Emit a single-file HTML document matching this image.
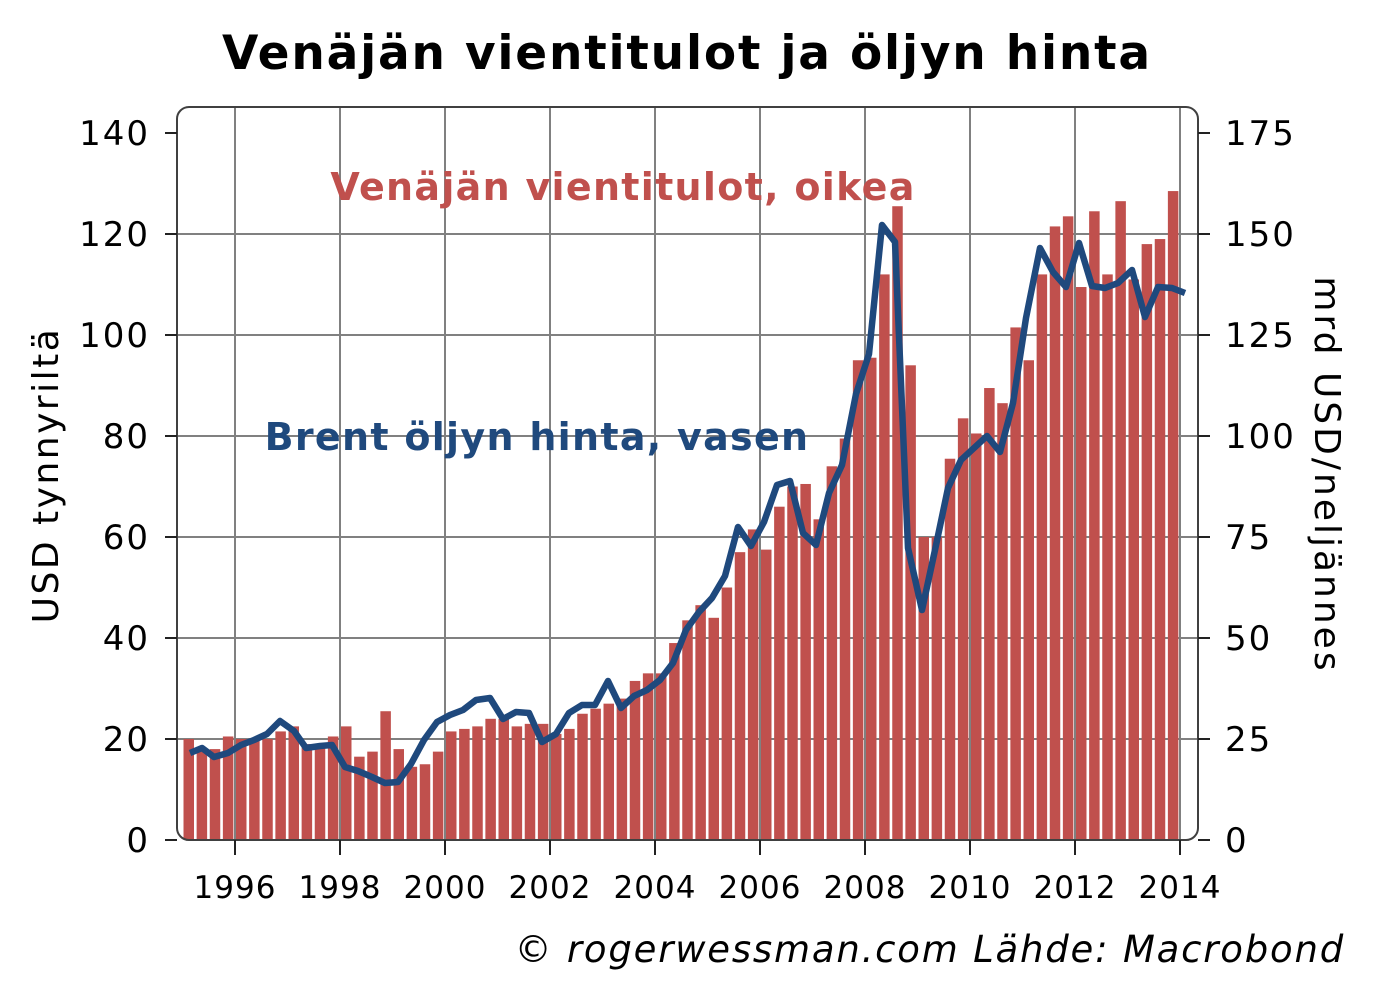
<!DOCTYPE html><html><head><meta charset="utf-8"><style>body{margin:0;background:#fff}svg{display:block}text{font-family:"DejaVu Sans","Liberation Sans",sans-serif}</style></head><body>
<svg id="s" width="1375" height="1000" xmlns="http://www.w3.org/2000/svg">
<rect width="1375" height="1000" fill="#fff"/>
<g id="grid" stroke="#808080" stroke-width="2"></g>
<g id="bars" fill="#c0504d"></g>
<polyline id="ln" fill="none" stroke="#1f497d" stroke-width="6.5" stroke-linejoin="round"/>
<rect x="177" y="107" width="1021" height="733" rx="12" fill="none" stroke="#404040" stroke-width="2"/>
<g id="ticks" stroke="#222" stroke-width="2"></g>
<g id="lab" font-size="34" fill="#000" letter-spacing="2"></g>
<text x="687" y="69" font-size="47" font-weight="bold" text-anchor="middle" letter-spacing="1.8">Venäjän vientitulot ja öljyn hinta</text>
<text x="623" y="200" font-size="38" font-weight="bold" fill="#c0504d" text-anchor="middle" letter-spacing="1.3">Venäjän vientitulot, oikea</text>
<text x="537" y="450" font-size="38" font-weight="bold" fill="#1f497d" text-anchor="middle" letter-spacing="1.3">Brent öljyn hinta, vasen</text>
<text transform="translate(58,475) rotate(-90)" font-size="36" text-anchor="middle" letter-spacing="2.5">USD tynnyriltä</text>
<text transform="translate(1315,475) rotate(90)" font-size="36" text-anchor="middle" letter-spacing="3">mrd USD/neljännes</text>
<text x="1345" y="962" font-size="37" font-style="italic" text-anchor="end" letter-spacing="1.8">© rogerwessman.com Lähde: Macrobond</text>
</svg>
<script>
var NS="http://www.w3.org/2000/svg";function el(p,t,a,tx){var e=document.createElementNS(NS,t);for(var k in a)e.setAttribute(k,a[k]);if(tx!==undefined)e.textContent=tx;document.getElementById(p).appendChild(e);}
for(var i=0;i<=6;i++){var y=840-i*101;if(i>0)el("grid","line",{x1:177,x2:1198,y1:y,y2:y});el("ticks","line",{x1:165,x2:177,y1:y,y2:y});el("ticks","line",{x1:1198,x2:1210,y1:y,y2:y});
el("lab","text",{x:150,y:y+12,"text-anchor":"end"},String(i*20));el("lab","text",{x:1225,y:y+12},String(i*25));}
el("lab","text",{x:150,y:133+12,"text-anchor":"end"},"140");el("lab","text",{x:1225,y:133+12},"175");
el("ticks","line",{x1:165,x2:177,y1:133,y2:133});el("ticks","line",{x1:1198,x2:1210,y1:133,y2:133});
for(var yr=1996;yr<=2014;yr+=2){var x=235+(yr-1996)*52.5;el("grid","line",{x1:x,x2:x,y1:107,y2:840});el("ticks","line",{x1:x,x2:x,y1:840,y2:855});el("lab","text",{x:x,y:898,"text-anchor":"middle","font-size":"31","letter-spacing":"1"},String(yr));}
var v=[20,18,18,20.5,20,20,20,21.5,22.5,19,19,20.5,22.5,16.5,17.5,25.5,18,14.5,15,17.5,21.5,22,22.5,24,24,22.5,23,23,21,22,25,26,27,28,31.5,33,33,39,43.5,46.5,44,50,57,61.5,57.5,66,70,70.5,63.5,74,79.5,95,95.5,112,125.5,94,60,60,75.5,83.5,80.5,89.5,86.5,101.5,95,112,121.5,123.5,109.5,124.5,112,126.5,111,118,119,128.5];
v.forEach(function(a,i){var x=183.5+i*13.125,y=840-a*5.05;el("bars","rect",{x:x,y:y,width:10.5,height:840-y});});
document.getElementById("ln").setAttribute("points","190,753 202,748 214,757 228,753 241,745 254,740 267,734 280,721 294,731 306,748 320,746 332,745 345,767 358,771 372,777 385,783 398,782 411,764 424,740 437,722 450,715 463,710 476,700 490,698 503,719 516,712 529,713 542,742 556,734 569,713 582,705 595,705 608,681 621,708 634,696 647,690 660,680 673,663 686,630 699,612 712,598 725,576 738,527 751,546 764,522 777,485 790,481 803,533 816,545 829,493 842,465 856,394 869,354 882,225 895,242 908,548 922,610 935,550 948,488 961,460 974,448 987,436 1000,452 1013,403 1026,318 1040,248 1053,272 1066,287 1079,243 1092,286 1105,288 1118,283 1132,270 1145,317 1158,287 1172,288 1185,293");
</script></body></html>
